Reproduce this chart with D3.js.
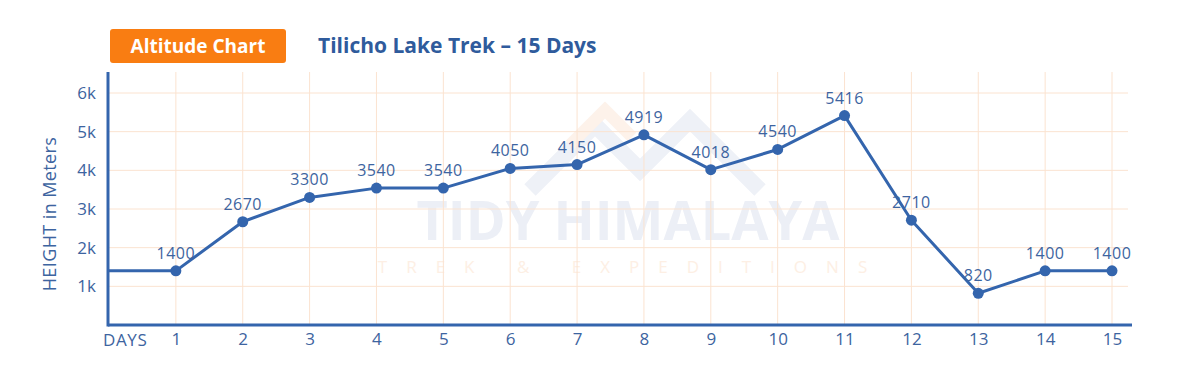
<!DOCTYPE html>
<html>
<head>
<meta charset="utf-8">
<script src="https://cdn.jsdelivr.net/npm/d3@7"></script>
<style>
  body { margin: 0; background: #fff; }
  svg { display: block; font-family: "Open Sans", "DejaVu Sans", sans-serif; }
</style>
</head>
<body>
<svg width="1200" height="374"></svg>
<script>
const svg = d3.select("svg");

// chart data
const days = [1, 2, 3, 4, 5, 6, 7, 8, 9, 10, 11, 12, 13, 14, 15];
const heights = [1400, 2670, 3300, 3540, 3540, 4050, 4150, 4919, 4018, 4540, 5416, 2710, 820, 1400, 1400];
const yTicks = [1000, 2000, 3000, 4000, 5000, 6000];
const yTickLabels = ["1k", "2k", "3k", "4k", "5k", "6k"];

const blue = "#3465ad";
const textBlue = "#3d64a0";
const gridColor = "#fbe3d0";

const x = d3.scaleLinear().domain([0, 15]).range([109, 1112]);
const y = d3.scaleLinear().domain([0, 6000]).range([325, 93]);

// watermark
const wm = svg.append("g").attr("class", "watermark");
wm.append("path")
    .attr("d", "M530,190 L595,125 L640,170 L690,120 L760,190")
    .attr("fill", "none").attr("stroke", "#eef1f7").attr("stroke-width", 16);
wm.append("path")
    .attr("d", "M570,145 L605,110 L632,137")
    .attr("fill", "none").attr("stroke", "#fdf2ea").attr("stroke-width", 12);
wm.append("text")
    .attr("x", 628).attr("y", 240)
    .attr("text-anchor", "middle")
    .attr("font-size", 54).attr("font-weight", 700)
    .attr("fill", "#eceff6")
    .text("TIDY HIMALAYA");
wm.append("text")
    .attr("x", 632).attr("y", 273)
    .attr("text-anchor", "middle")
    .attr("font-size", 17)
    .attr("letter-spacing", 19)
    .attr("fill", "#fdefe4")
    .text("TREK & EXPEDITIONS");

// grid
svg.append("g")
    .selectAll("line")
    .data(yTicks)
    .join("line")
    .attr("x1", x(0)).attr("x2", 1128)
    .attr("y1", d => y(d)).attr("y2", d => y(d))
    .attr("stroke", gridColor).attr("stroke-width", 1);

svg.append("g")
    .selectAll("line")
    .data(days)
    .join("line")
    .attr("x1", d => x(d)).attr("x2", d => x(d))
    .attr("y1", 72).attr("y2", y(0))
    .attr("stroke", gridColor).attr("stroke-width", 1);

// axes
const xAxis = d3.axisBottom(x).tickValues(days).tickSize(0).tickPadding(8);
const gx = svg.append("g")
    .attr("transform", `translate(0,${y(0)})`)
    .call(xAxis);
gx.select(".domain").remove();
gx.selectAll("text")
    .attr("font-size", 17).attr("fill", textBlue)
    .attr("font-family", "'Open Sans', sans-serif");

svg.append("line")
    .attr("x1", x(0) - 1).attr("x2", 1132)
    .attr("y1", y(0)).attr("y2", y(0))
    .attr("stroke", blue).attr("stroke-width", 3);

const yAxis = d3.axisLeft(y).tickValues(yTicks)
    .tickFormat((d, i) => yTickLabels[i]).tickSize(0).tickPadding(13);
const gy = svg.append("g")
    .attr("transform", `translate(${x(0)},0)`)
    .call(yAxis);
gy.select(".domain").remove();
gy.selectAll("text")
    .attr("font-size", 17).attr("fill", textBlue)
    .attr("font-family", "'Open Sans', sans-serif");

svg.append("line")
    .attr("x1", x(0) - 1).attr("x2", x(0) - 1)
    .attr("y1", 72).attr("y2", y(0) + 1.5)
    .attr("stroke", blue).attr("stroke-width", 3);

svg.append("text")
    .attr("x", 103).attr("y", 346)
    .attr("font-size", 17).attr("fill", textBlue)
    .attr("letter-spacing", 0.6)
    .text("DAYS");

svg.append("text")
    .attr("transform", "translate(56,214) rotate(-90)")
    .attr("text-anchor", "middle")
    .attr("font-size", 18).attr("fill", textBlue)
    .attr("letter-spacing", 0.4)
    .text("HEIGHT in Meters");

// line (flat lead-in from the axis to day 1)
const lineData = [[0, heights[0]]].concat(days.map((d, i) => [d, heights[i]]));
const line = d3.line().x(d => x(d[0])).y(d => y(d[1]));

svg.append("path")
    .attr("d", line(lineData))
    .attr("fill", "none")
    .attr("stroke", blue)
    .attr("stroke-width", 3)
    .attr("stroke-linejoin", "round");

svg.append("g")
    .selectAll("circle")
    .data(heights)
    .join("circle")
    .attr("cx", (d, i) => x(days[i]))
    .attr("cy", d => y(d))
    .attr("r", 5.5)
    .attr("fill", blue);

svg.append("g")
    .selectAll("text")
    .data(heights)
    .join("text")
    .attr("x", (d, i) => x(days[i]))
    .attr("y", d => y(d) - 12)
    .attr("text-anchor", "middle")
    .attr("font-size", 16)
    .attr("letter-spacing", 0.5)
    .attr("fill", textBlue)
    .text(d => d);

// header
svg.append("rect")
    .attr("x", 110).attr("y", 29)
    .attr("width", 176).attr("height", 34)
    .attr("rx", 3)
    .attr("fill", "#f97d12");
svg.append("text")
    .attr("x", 198).attr("y", 53)
    .attr("text-anchor", "middle")
    .attr("font-size", 19).attr("font-weight", 700)
    .attr("fill", "#fff")
    .text("Altitude Chart");
svg.append("text")
    .attr("x", 318).attr("y", 53)
    .attr("font-size", 21).attr("font-weight", 700)
    .attr("fill", "#2f5b9c")
    .text("Tilicho Lake Trek – 15 Days");
</script>
</body>
</html>
